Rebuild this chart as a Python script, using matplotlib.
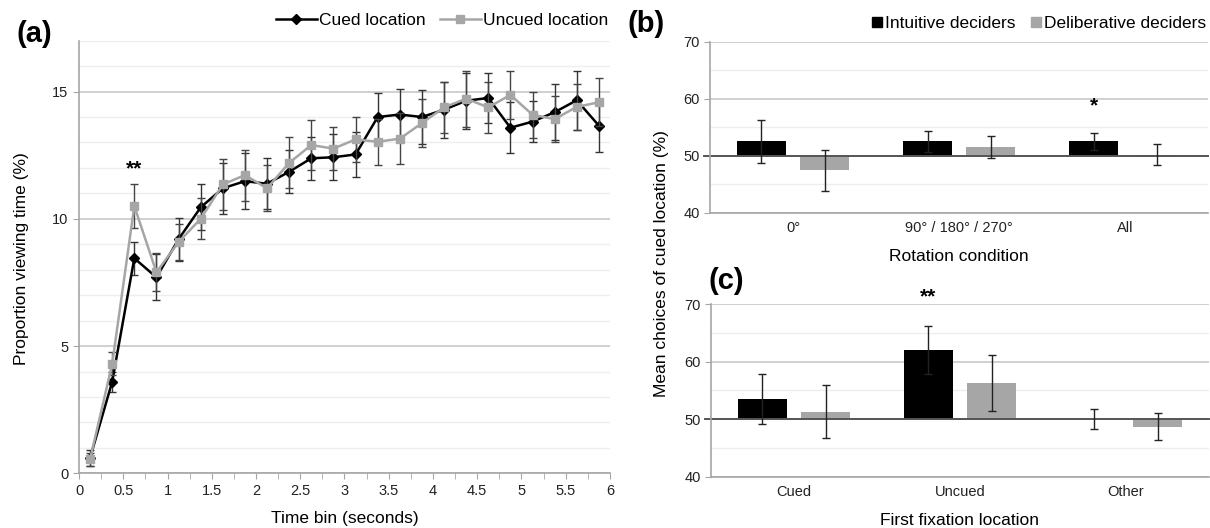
import matplotlib
matplotlib.use('Agg')
import matplotlib.pyplot as plt            # NOQA
from matplotlib.lines import Line2D        # NOQA
from matplotlib.ticker import MultipleLocator  # NOQA

plt.rcParams['font.family'] = ['Liberation Sans', 'DejaVu Sans']

# panel (a): proportion viewing time per 250 ms bin
time_bins = [0.125, 0.375, 0.625, 0.875, 1.125, 1.375, 1.625, 1.875,
             2.125, 2.375, 2.625, 2.875, 3.125, 3.375, 3.625, 3.875,
             4.125, 4.375, 4.625, 4.875, 5.125, 5.375, 5.625, 5.875]
cued_mean = [0.6, 3.6, 8.45, 7.7, 9.2, 10.45, 11.2, 11.48,
             11.38, 11.85, 12.38, 12.42, 12.53, 14.0, 14.1, 14.0,
             14.29, 14.64, 14.75, 13.58, 13.82, 14.19, 14.66, 13.66]
cued_err = [0.3, 0.4, 0.65, 0.9, 0.85, 0.9, 1.0, 1.1,
            1.0, 0.85, 0.85, 0.9, 0.9, 0.95, 1.0, 1.05,
            1.1, 1.1, 1.0, 1.0, 0.8, 1.1, 1.15, 1.05]
uncued_mean = [0.55, 4.3, 10.5, 7.9, 9.09, 10.0, 11.35, 11.72,
               11.2, 12.2, 12.9, 12.76, 13.12, 13.03, 13.15, 13.76,
               14.38, 14.72, 14.38, 14.87, 14.09, 13.92, 14.4, 14.58]
uncued_err = [0.25, 0.45, 0.85, 0.75, 0.7, 0.8, 1.0, 1.0,
              0.9, 1.0, 1.0, 0.85, 0.9, 0.9, 1.0, 0.95,
              1.0, 1.1, 1.0, 0.95, 0.9, 0.9, 0.9, 0.95]

# panel (b): choices by rotation condition
rotation_labels = ['0°', '90° / 180° / 270°', 'All']
intuitive_rot = [52.5, 52.5, 52.5]
intuitive_rot_err = [3.75, 1.8, 1.5]
deliberative_rot = [47.4, 51.5, 50.2]
deliberative_rot_err = [3.6, 1.9, 1.85]

# panel (c): choices by first fixation location
fixation_labels = ['Cued', 'Uncued', 'Other']
intuitive_fix = [53.5, 62.1, 50.0]
intuitive_fix_err = [4.4, 4.2, 1.7]
deliberative_fix = [51.3, 56.3, 48.7]
deliberative_fix_err = [4.6, 4.85, 2.3]

BLACK = '#000000'
GREY = '#a6a6a6'
SPINE = '#a6a6a6'
MAJOR_GRID = '#c4c4c4'
MINOR_GRID = '#eeeeee'


def _style_axes(ax):
    """common look: grey left/bottom spines, horizontal grid only"""
    for side in ('top', 'right'):
        ax.spines[side].set_visible(False)
    for side in ('left', 'bottom'):
        ax.spines[side].set_color(SPINE)
        ax.spines[side].set_linewidth(1.2)
    ax.yaxis.grid(True, which='major', color=MAJOR_GRID, lw=1.1)
    ax.yaxis.grid(True, which='minor', color=MINOR_GRID, lw=1.0)
    ax.set_axisbelow(True)
    ax.tick_params(axis='both', which='both', colors=SPINE,
                   labelcolor='#222222', labelsize=10.5, direction='out')
    ax.tick_params(axis='y', which='minor', length=0)


def line_panel(ax):
    _style_axes(ax)
    ax.errorbar(time_bins, cued_mean, yerr=cued_err, color=BLACK,
                marker='D', ms=5.5, lw=1.8, ecolor='#333333',
                elinewidth=1.0, capsize=3, capthick=1.0, zorder=3)
    ax.errorbar(time_bins, uncued_mean, yerr=uncued_err, color=GREY,
                marker='s', ms=5.5, lw=1.8, ecolor='#444444',
                elinewidth=1.0, capsize=3, capthick=1.0, zorder=4)
    ax.set_xlim(0, 6)
    ax.set_ylim(0, 17)
    ax.set_xticks([0, 0.5, 1, 1.5, 2, 2.5, 3, 3.5, 4, 4.5, 5, 5.5, 6])
    ax.set_xticklabels(['0', '0.5', '1', '1.5', '2', '2.5', '3', '3.5',
                        '4', '4.5', '5', '5.5', '6'])
    ax.xaxis.set_minor_locator(MultipleLocator(0.25))
    ax.tick_params(axis='x', which='both', length=4)
    ax.set_yticks([0, 5, 10, 15])
    ax.yaxis.set_minor_locator(MultipleLocator(1))
    ax.tick_params(axis='y', which='major', length=4)
    ax.text(0.625, 11.6, '**', ha='center', va='bottom', fontsize=15,
            fontweight='bold')
    handles = [Line2D([], [], color=BLACK, marker='D', ms=5.5, lw=1.8),
               Line2D([], [], color=GREY, marker='s', ms=5.5, lw=1.8)]
    ax.legend(handles, ['Cued location', 'Uncued location'],
              loc='lower right', bbox_to_anchor=(1.0, 1.025), ncol=2,
              frameon=False, fontsize=12.5, handlelength=2.4,
              handletextpad=0.1, columnspacing=0.8, borderaxespad=0,
              borderpad=0.1)


def bar_panel(ax, labels, intuitive, intuitive_err, deliberative,
              deliberative_err, stars, star_y, legend=False):
    _style_axes(ax)
    ind = range(len(labels))
    width = 0.3
    off = 0.19
    xs_i = [i - off for i in ind]
    xs_d = [i + off for i in ind]
    ax.bar(xs_i, [v - 50 for v in intuitive], width, bottom=50,
           color=BLACK, zorder=2)
    ax.bar(xs_d, [v - 50 for v in deliberative], width, bottom=50,
           color=GREY, zorder=2)
    ax.axhline(50, xmin=-0.012, xmax=1, color='#555555', lw=1.4,
               zorder=2.5, clip_on=False)
    ax.errorbar(xs_i, intuitive, yerr=intuitive_err, fmt='none',
                ecolor='#222222', elinewidth=1.0, capsize=3, capthick=1.0,
                zorder=3)
    ax.errorbar(xs_d, deliberative, yerr=deliberative_err, fmt='none',
                ecolor='#222222', elinewidth=1.0, capsize=3, capthick=1.0,
                zorder=3)
    for idx, s in stars.items():
        ax.text(xs_i[idx], star_y, s, ha='center', va='bottom',
                fontsize=15, fontweight='bold', clip_on=False)
    ax.set_xlim(-0.5, len(labels) - 0.5)
    ax.set_ylim(40, 70)
    ax.set_xticks(list(ind))
    ax.set_xticklabels(labels)
    ax.tick_params(axis='x', which='both', length=0, pad=6)
    ax.set_yticks([40, 50, 60, 70])
    ax.yaxis.set_minor_locator(MultipleLocator(5))
    ax.tick_params(axis='y', which='major', length=4)
    if legend:
        handles = [Line2D([], [], color=BLACK, marker='s', ms=7, lw=0),
                   Line2D([], [], color=GREY, marker='s', ms=7, lw=0)]
        ax.legend(handles, ['Intuitive deciders', 'Deliberative deciders'],
                  loc='lower right', bbox_to_anchor=(1.0, 1.05), ncol=2,
                  frameon=False, fontsize=12.5, handlelength=0.6,
                  handletextpad=0.15, columnspacing=0.9, borderaxespad=0,
                  borderpad=0.1)


fig = plt.figure(figsize=(12.1, 5.28), dpi=100)
ax_a = fig.add_axes([0.0653, 0.1036, 0.4388, 0.8193])
ax_b = fig.add_axes([0.5868, 0.5972, 0.4116, 0.3239])
ax_c = fig.add_axes([0.5876, 0.0972, 0.4116, 0.3265])

line_panel(ax_a)
bar_panel(ax_b, rotation_labels, intuitive_rot, intuitive_rot_err,
          deliberative_rot, deliberative_rot_err, {2: '*'}, 57.0,
          legend=True)
bar_panel(ax_c, fixation_labels, intuitive_fix, intuitive_fix_err,
          deliberative_fix, deliberative_fix_err, {1: '**'}, 69.6)

fig.text(0.018, 0.51, 'Proportion viewing time (%)', rotation=90,
         ha='center', va='center', fontsize=12.5)
fig.text(0.285, 0.018, 'Time bin (seconds)', ha='center', va='center',
         fontsize=12.5)
fig.text(0.547, 0.5, 'Mean choices of cued location (%)', rotation=90,
         ha='center', va='center', fontsize=12.5)
fig.text(0.7926, 0.515, 'Rotation condition', ha='center', va='center',
         fontsize=12.5)
fig.text(0.7926, 0.015, 'First fixation location', ha='center',
         va='center', fontsize=12.5)

fig.text(0.028, 0.935, '(a)', ha='center', va='center', fontsize=21,
         fontweight='bold')
fig.text(0.534, 0.955, '(b)', ha='center', va='center', fontsize=21,
         fontweight='bold')
fig.text(0.6, 0.467, '(c)', ha='center', va='center', fontsize=21,
         fontweight='bold')

fig.savefig('out.png', dpi=100)
plt.close(fig)
